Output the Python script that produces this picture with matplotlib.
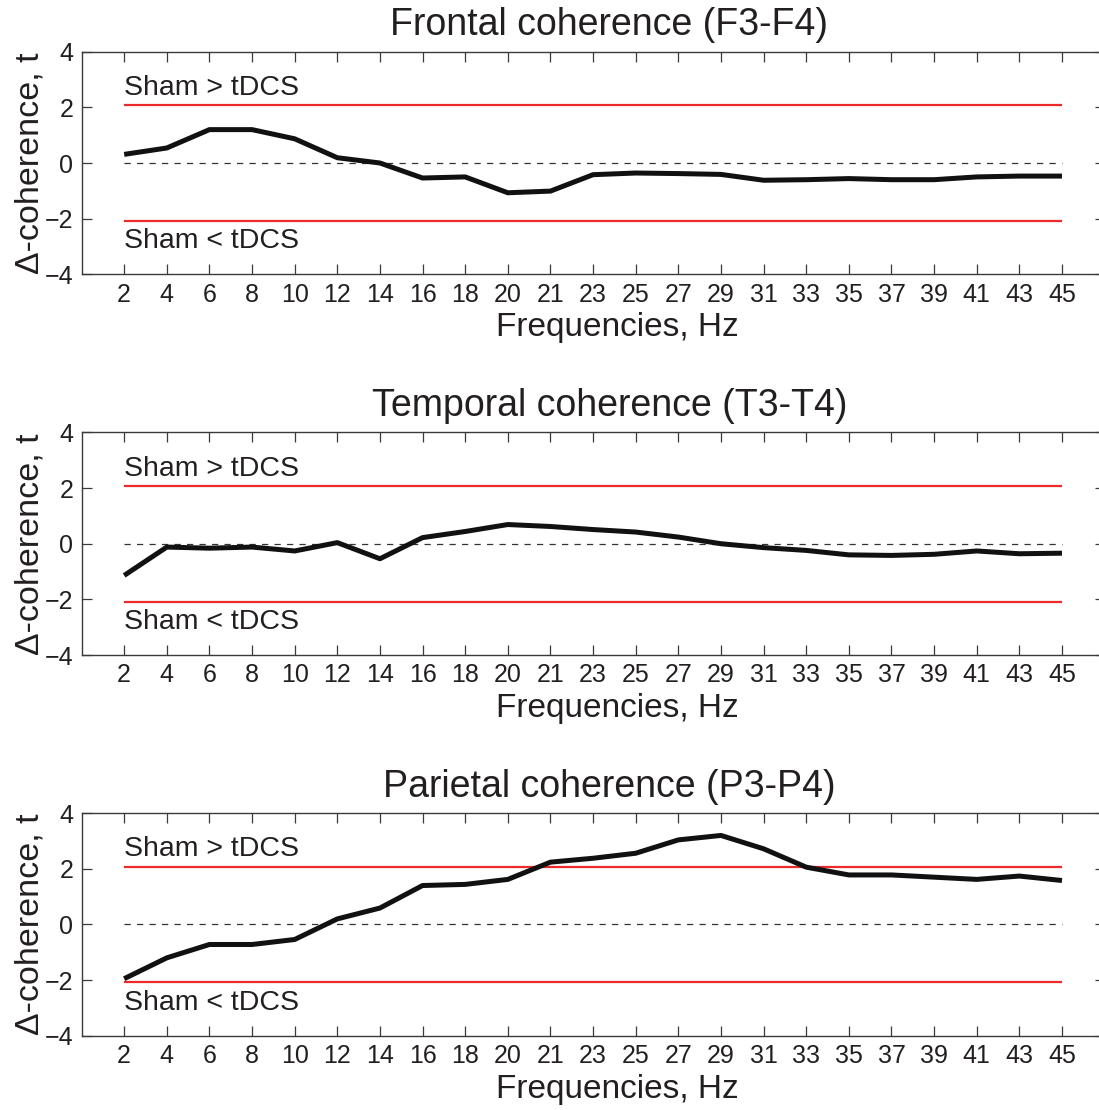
import matplotlib
matplotlib.use("Agg")
import matplotlib.pyplot as plt

plt.rcParams["font.family"] = ["Liberation Sans", "DejaVu Sans"]

freq_labels = ["2", "4", "6", "8", "10", "12", "14", "16", "18", "20", "21", "23",
               "25", "27", "29", "31", "33", "35", "37", "39", "41", "43", "45"]

frontal = [0.31, 0.54, 1.20, 1.20, 0.87, 0.19, 0.00, -0.54, -0.50, -1.07, -1.01, -0.42,
           -0.36, -0.38, -0.41, -0.62, -0.60, -0.56, -0.60, -0.60, -0.50, -0.47, -0.47]
temporal = [-1.14, -0.12, -0.16, -0.12, -0.26, 0.04, -0.54, 0.22, 0.44, 0.69, 0.62, 0.51,
            0.42, 0.24, 0.00, -0.14, -0.24, -0.40, -0.42, -0.38, -0.26, -0.36, -0.34]
parietal = [-1.95, -1.20, -0.72, -0.72, -0.54, 0.20, 0.59, 1.40, 1.44, 1.62, 2.24, 2.38,
            2.56, 3.04, 3.20, 2.72, 2.06, 1.78, 1.78, 1.70, 1.62, 1.74, 1.58]

titles = ["Frontal coherence (F3-F4)", "Temporal coherence (T3-T4)", "Parietal coherence (P3-P4)"]
series = [frontal, temporal, parietal]
t_crit = 2.08

TEXT = "#231f20"
SPINE = "#3a3a3a"
RED = "#ec2a2a"

fig = plt.figure(figsize=(10.99, 11.10), dpi=100)
bottoms = [0.7529, 0.4099, 0.0669]
pos = list(range(1, len(freq_labels) + 1))

for title, vals, b in zip(titles, series, bottoms):
    ax = fig.add_axes([0.0742, b, 0.9309, 0.2005])
    ax.plot([pos[0], pos[-1]], [t_crit, t_crit], color=RED, lw=1.6, solid_capstyle="butt")
    ax.plot([pos[0], pos[-1]], [-t_crit, -t_crit], color=RED, lw=1.6, solid_capstyle="butt")
    ax.plot([pos[0], pos[-1]], [0, 0], color="#333333", lw=0.9, dashes=(5, 5))
    ax.plot(pos, vals, color="#111111", lw=3.6, solid_capstyle="butt", solid_joinstyle="round")

    ax.text(pos[0], 2.45, "Sham > tDCS", fontsize=20.5, color=TEXT, ha="left", va="baseline")
    ax.text(pos[0], -3.07, "Sham < tDCS", fontsize=20.5, color=TEXT, ha="left", va="baseline")

    ax.set_xlim(0, len(freq_labels) + 1)
    ax.set_ylim(-4, 4)
    ax.set_xticks(pos)
    ax.set_xticklabels(freq_labels)
    ax.set_yticks([-4, -2, 0, 2, 4])
    ax.tick_params(axis="both", direction="in", top=True, right=True, length=7,
                   width=0.9, color=SPINE, labelsize=18, labelcolor=TEXT, pad=6)
    for s in ax.spines.values():
        s.set_color(SPINE)
        s.set_linewidth(1.0)

    ax.set_title(title, fontsize=27, color=TEXT, x=0.516, pad=12)
    ax.set_xlabel("Frequencies, Hz", fontsize=24, color=TEXT)
    ax.xaxis.set_label_coords(0.524, -0.17)
    ax.set_ylabel("\u0394-coherence, t", fontsize=24.5, color=TEXT)
    ax.yaxis.set_label_coords(-0.035, 0.5)

fig.savefig("out.png", dpi=100)
